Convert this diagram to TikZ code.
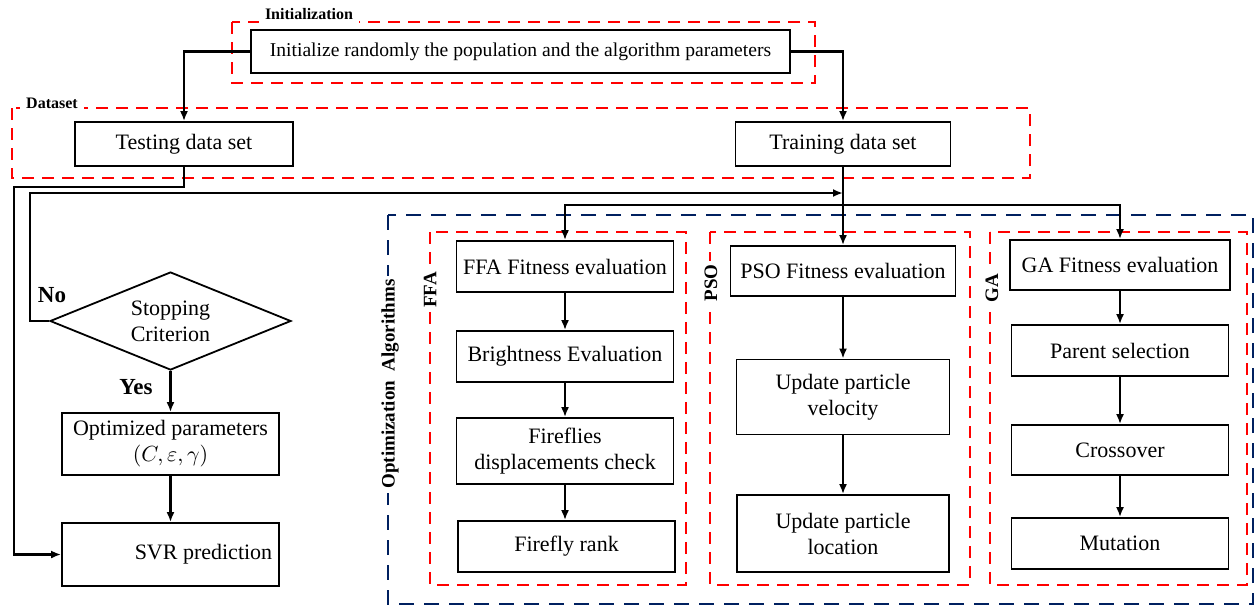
\documentclass[tikz,border=0pt]{standalone}
\usepackage{fontspec}
\setmainfont{Liberation Serif}
\usetikzlibrary{positioning,shapes.geometric,arrows.meta}
\definecolor{darkblue}{RGB}{0,32,96}
\begin{document}
\begin{tikzpicture}[x=0.5pt, y=-0.5pt,
    box/.style={draw, line width=0.9pt, align=center, inner sep=1pt, font=\fontsize{11}{13}\selectfont},
    arr/.style={-{Latex[length=5pt,width=4pt]}, line width=1.1pt},
    redframe/.style={draw=red, dash pattern=on 6pt off 4pt, line width=1.4pt},
    blueframe/.style={draw=darkblue, dash pattern=on 7.5pt off 5pt, line width=1.4pt},
    tag/.style={fill=white, font=\bfseries\fontsize{8}{9}\selectfont, inner sep=3pt},
    sidetag/.style={fill=white, rotate=90, font=\bfseries\fontsize{9.5}{11}\selectfont, inner sep=2pt},
    answer/.style={font=\bfseries\fontsize{11.5}{13}\selectfont}]
    \useasboundingbox (0,0) rectangle (1257,607);

    % groups
    \draw[redframe] (232,22) rectangle (815,83);
    \draw[redframe] (12,108) rectangle (1030,178);
    \draw[blueframe] (388,215) rectangle (1253,604);
    \draw[redframe] (430,232) rectangle (686,585);
    \draw[redframe] (710,232) rectangle (970,585);
    \draw[redframe] (990,232) rectangle (1247,585);
    \node[tag] (initlbl) at (309,14) {Initialization};
    \node[tag] (datalbl) at (52,103) {Dataset};
    \node[sidetag] (optlbl) at (390,384) {Optimization\ \ Algorithms};
    \node[sidetag] (ffalbl) at (430,290) {FFA};
    \node[sidetag] (psolbl) at (711,283) {PSO};
    \node[sidetag] (galbl) at (992,288) {GA};

    % boxes
    \node[box, minimum width=269.5pt, minimum height=21.5pt, font=\fontsize{9.8}{12}\selectfont] (init) at (520.5,51.5)
        {Initialize\ randomly\ the\ population\ and\ the\ algorithm\ parameters};
    \node[box, minimum width=109pt, minimum height=22pt] (test) at (184,144) {Testing data set};
    \node[box, minimum width=107.5pt, minimum height=22pt] (train) at (843,144) {Training data set};

    \node[draw, diamond, line width=0.9pt, aspect=2.4, inner sep=0pt, minimum width=120.5pt, minimum height=49pt,
        align=center, font=\fontsize{11}{13}\selectfont] (stop) at (170.5,321) {Stopping\\Criterion};
    \node[box, minimum width=108.5pt, minimum height=31pt] (opt) at (170.5,444) {Optimized parameters\\$(C,\varepsilon,\gamma)$};
    \node[box, minimum width=108.5pt, minimum height=31.5pt] (svr) at (170.5,554.5) {\hspace{3em}SVR prediction};
    \node[answer] (no) at (52,295) {No};
    \node[answer] (yes) at (136,387) {Yes};

    \node[box, minimum width=108.5pt, minimum height=25.5pt] (ffa1) at (565,266.5) {FFA Fitness evaluation};
    \node[box, minimum width=108.5pt, minimum height=25.5pt] (ffa2) at (565,356.5) {Brightness Evaluation};
    \node[box, minimum width=108.5pt, minimum height=33pt] (ffa3) at (565,451) {Fireflies\\displacements check};
    \node[box, minimum width=108.5pt, minimum height=25.5pt] (ffa4) at (566.5,546.5) {Firefly rank};

    \node[box, minimum width=112.5pt, minimum height=25pt] (pso1) at (843,271) {PSO Fitness evaluation};
    \node[box, minimum width=106.5pt, minimum height=37.5pt] (pso2) at (843,397) {Update particle\\velocity};
    \node[box, minimum width=106pt, minimum height=38.5pt] (pso3) at (843,533.5) {Update particle\\location};

    \node[box, minimum width=110pt, minimum height=25pt] (ga1) at (1120,265) {GA Fitness evaluation};
    \node[box, minimum width=108.5pt, minimum height=25.5pt] (ga2) at (1120,350.5) {Parent selection};
    \node[box, minimum width=108.5pt, minimum height=25pt] (ga3) at (1120,450) {Crossover};
    \node[box, minimum width=108.5pt, minimum height=25.5pt] (ga4) at (1120,543.5) {Mutation};

    % connectors
    \coordinate (drop) at (14,187);
    \coordinate (back) at (30,193);
    \coordinate (split) at (843,205);
    \draw[arr] (init.west) -| (test.north);
    \draw[arr] (init.east) -| (train.north);
    \draw[arr] (test.south) |- (drop) |- (svr.west);
    \draw[arr] (stop.west) -| (back) -- (train.south |- back);
    \draw[arr] (train.south) -- (pso1.north);
    \draw[arr] (split) -| (ffa1.north);
    \draw[arr] (split) -| (ga1.north);
    \draw[arr] (stop.south) -- (opt.north);
    \draw[arr] (opt.south) -- (svr.north);
    \draw[arr] (ffa1) -- (ffa2);
    \draw[arr] (ffa2) -- (ffa3);
    \draw[arr] (ffa3.south) -- (ffa3.south |- ffa4.north);
    \draw[arr] (pso1) -- (pso2);
    \draw[arr] (pso2) -- (pso3);
    \draw[arr] (ga1) -- (ga2);
    \draw[arr] (ga2) -- (ga3);
    \draw[arr] (ga3) -- (ga4);
\end{tikzpicture}
\end{document}
